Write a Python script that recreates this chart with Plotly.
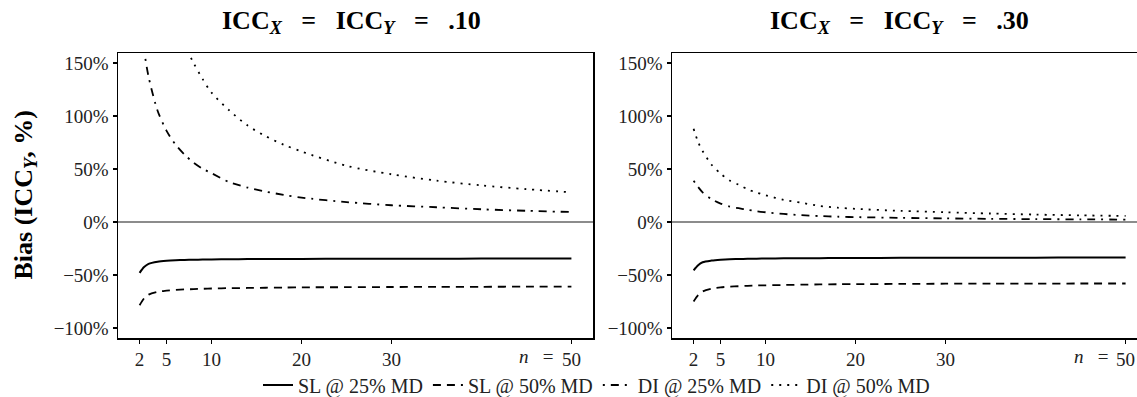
import plotly.graph_objects as go

# ---- data (bias in %) ----
n_vals = [2, 2.5, 3, 4, 5, 6, 7, 8, 9, 10, 12, 14, 16, 18, 20, 25, 30, 35, 40, 45, 50]

# Panel 1: ICC_X = ICC_Y = .10
p1_sl25 = [-48.0, -42.5, -39.5, -37.5, -36.6, -36.1, -35.8, -35.6, -35.4, -35.3, -35.1, -35.0, -34.9, -34.85, -34.8, -34.7, -34.6, -34.6, -34.5, -34.5, -34.5]
p1_sl50 = [-78.5, -72.0, -68.5, -65.8, -64.8, -64.1, -63.6, -63.3, -63.0, -62.7, -62.4, -62.2, -62.0, -61.8, -61.6, -61.5, -61.3, -61.2, -61.1, -61.0, -61.0]
p1_di25 = [195, 162, 137, 105, 86, 73, 63.5, 56, 50.3, 46, 37.5, 32.5, 28.7, 25.6, 23, 18.8, 15.8, 13.9, 12, 10.6, 9.4]
p1_di50 = [520, 440, 380, 300, 245, 203, 168, 150, 135, 122, 105, 91, 81, 73, 66.5, 53, 45, 39, 34.5, 31, 28]

# Panel 2: ICC_X = ICC_Y = .30
p2_sl25 = [-45.6, -40.8, -38.0, -36.4, -35.6, -35.1, -34.9, -34.7, -34.6, -34.4, -34.3, -34.2, -34.1, -34.0, -33.9, -33.8, -33.7, -33.6, -33.6, -33.5, -33.5]
p2_sl50 = [-75.0, -69.0, -65.5, -62.8, -61.6, -61.0, -60.6, -60.2, -59.9, -59.7, -59.4, -59.1, -58.9, -58.7, -58.6, -58.4, -58.2, -58.1, -58.1, -58.0, -58.0]
p2_di25 = [39, 33, 28, 21.5, 17.4, 14.6, 13, 11.5, 10.2, 9.2, 7.6, 6.4, 5.6, 5, 4.6, 3.9, 3.4, 3.0, 2.7, 2.5, 2.3]
p2_di50 = [88, 75.5, 67, 54, 45.6, 39.2, 35.2, 30.8, 27.8, 25.3, 20.9, 18.1, 15.2, 13.5, 12.4, 10.5, 9.2, 8.0, 7.0, 6.3, 5.7]

series_names = ["SL @ 25% MD", "SL @ 50% MD", "DI @ 25% MD", "DI @ 50% MD"]
panel_titles = [".10", ".30"]
x_tickvals = [2, 5, 10, 20, 30, 50]
x_ticktext = ["2", "5", "10", "20", "30", "50"]
y_tickvals = [-100, -50, 0, 50, 100, 150]
y_ticktext = ["\u2212100%", "\u221250%", "0%", "50%", "100%", "150%"]

# ---- styling ----
FONT = "Liberation Serif"
dashes = ["solid", "8px,6px", "2px,6px,8px,6px", "2px,6px"]
widths = [2, 1.8, 1.8, 1.8]

W, H = 1137, 397
dom1 = [118 / W, 593 / W]
dom2 = [672 / W, 1.0]

fig = go.Figure()
panels = [
    ("x", "y", [p1_sl25, p1_sl50, p1_di25, p1_di50]),
    ("x2", "y2", [p2_sl25, p2_sl50, p2_di25, p2_di50]),
]
for pi, (xa, ya, data) in enumerate(panels):
    for si, vals in enumerate(data):
        fig.add_trace(go.Scatter(
            x=n_vals, y=vals, xaxis=xa, yaxis=ya, mode="lines",
            line=dict(color="black", width=widths[si], dash=dashes[si], shape="spline", smoothing=0.8),
            name=series_names[si], legendgroup=series_names[si], showlegend=(pi == 0),
            hoverinfo="skip",
        ))

axis_common = dict(showgrid=False, zeroline=False, ticks="outside", ticklen=4, tickwidth=1.2,
                   tickcolor="black", linecolor="black", linewidth=1.5, showline=True,
                   automargin=False,
                   tickfont=dict(family=FONT, size=19, color="#222"))

fig.update_layout(
    width=W, height=H,
    margin=dict(l=0, r=0, t=53, b=59, autoexpand=False),
    plot_bgcolor="white", paper_bgcolor="white",
    font=dict(family=FONT, color="black"),
    xaxis=dict(domain=dom1, range=[-0.4, 52.4], tickvals=x_tickvals, ticktext=x_ticktext,
               anchor="y", mirror=True, **axis_common),
    yaxis=dict(domain=[0, 1], range=[-109.4, 159.4], tickvals=y_tickvals, ticktext=y_ticktext,
               anchor="x", mirror=True, **axis_common),
    xaxis2=dict(domain=dom2, range=[-0.4, -0.4 + (W - 672) / 9.0], tickvals=x_tickvals, ticktext=x_ticktext,
                anchor="y2", mirror=True, **axis_common),
    yaxis2=dict(domain=[0, 1], range=[-109.4, 159.4], tickvals=y_tickvals, ticktext=y_ticktext,
                anchor="x2", mirror=False, **axis_common),
    legend=dict(orientation="h", x=0.5 + 28 / W, xanchor="center",
                yref="container", y=(H - 385) / H, yanchor="middle",
                font=dict(family=FONT, size=20, color="#222"), itemwidth=30,
                bgcolor="rgba(0,0,0,0)", tracegroupgap=0),
    showlegend=True,
)

# zero reference lines
for xr, yr in [("x domain", "y"), ("x2 domain", "y2")]:
    fig.add_shape(type="line", xref=xr, yref=yr, x0=0, x1=1, y0=0, y1=0,
                  line=dict(color="#8c8c8c", width=1.8), layer="below")

nb = "\u00a0"
sp = nb * 3
title_centers = [351 / W, 900 / W]
for pi, xa in enumerate(["x", "x2"]):
    # panel title
    fig.add_annotation(
        text=f"<b>ICC<sub><i>X</i></sub>{sp}={sp}ICC<sub><i>Y</i></sub>{sp}={sp}{panel_titles[pi]}</b>",
        xref="paper", yref="paper", x=title_centers[pi], xanchor="center",
        y=1, yanchor="middle", yshift=31, showarrow=False,
        font=dict(family=FONT, size=26, color="black"))
    # "n =" prefix of the last tick label
    fig.add_annotation(text=f"<i>n</i>{nb}{nb}{nb}={nb}", xref=xa, yref="paper", x=50, y=0,
                       xanchor="right", yanchor="middle", xshift=-11, yshift=-18,
                       showarrow=False, font=dict(family=FONT, size=19, color="#222"))

# y axis title
fig.add_annotation(text="<b>Bias (ICC<sub><i>Y</i></sub>, %)</b>", textangle=-90,
                   xref="paper", yref="paper", x=24 / W, y=0.5, xanchor="center", yanchor="middle",
                   showarrow=False, font=dict(family=FONT, size=26, color="black"))

fig.write_html("out.html", config={"displayModeBar": False, "staticPlot": True},
               post_script="document.body.style.margin='0';document.body.style.overflow='hidden';")
